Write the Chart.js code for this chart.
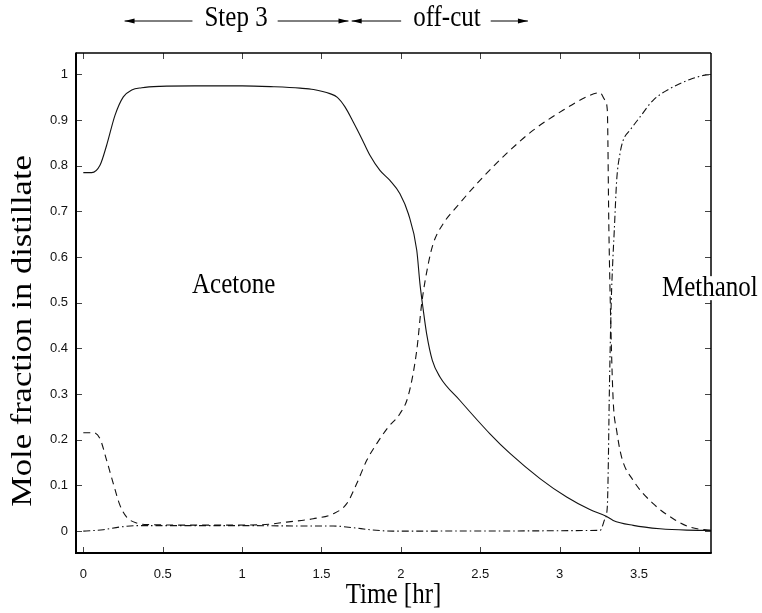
<!DOCTYPE html>
<html><head><meta charset="utf-8">
<script src="https://cdn.jsdelivr.net/npm/chart.js@4/dist/chart.umd.min.js"></script>
<style>html,body{margin:0;padding:0;background:#fff;}canvas{display:block;}</style>
</head><body>
<canvas id="c" width="762" height="613"></canvas>
<script>
// ---- data ----
const timeAcetone = [0,0.053,0.105,0.147,0.2,0.252,0.305,0.368,0.483,0.7,1.0,1.2,1.365,1.45,1.553,1.60,1.648,1.70,1.753,1.805,1.868,1.931,1.994,2.047,2.10,2.12,2.141,2.162,2.198,2.246,2.372,2.561,2.687,2.876,3.044,3.19,3.296,3.337,3.463,3.632,3.80,3.953];
const acetone     = [0.785,0.785,0.801,0.845,0.911,0.951,0.966,0.971,0.974,0.975,0.975,0.973,0.970,0.967,0.958,0.950,0.929,0.896,0.860,0.823,0.790,0.768,0.739,0.695,0.615,0.542,0.484,0.4325,0.374,0.3375,0.286,0.213,0.170,0.115,0.0745,0.047,0.032,0.0234,0.0125,0.005,0.002,0.0015];

const timeWater = [0,0.063,0.105,0.147,0.189,0.231,0.273,0.336,0.42,0.8,1.113,1.28,1.448,1.574,1.659,1.722,1.785,1.848,1.921,1.994,2.047,2.10,2.131,2.173,2.204,2.267,2.351,2.498,2.666,2.834,3.023,3.17,3.254,3.285,3.30,3.31,3.323,3.337,3.359,3.39,3.463,3.589,3.715,3.82,3.953];
const water     = [0.2155,0.2155,0.2024,0.155,0.104,0.0563,0.0307,0.0175,0.014,0.013,0.0137,0.0197,0.027,0.038,0.060,0.104,0.155,0.1915,0.228,0.257,0.297,0.396,0.498,0.586,0.630,0.6735,0.71,0.768,0.827,0.878,0.922,0.951,0.960,0.944,0.922,0.659,0.44,0.286,0.22,0.162,0.111,0.06,0.027,0.0088,0.0015];

const timeMethanol = [0,0.126,0.231,0.357,1.0,1.448,1.574,1.70,1.805,1.95,3.254,3.285,3.30,3.306,3.312,3.32,3.325,3.333,3.344,3.359,3.38,3.40,3.443,3.506,3.59,3.695,3.82,3.915,3.953];
const methanol     = [0,0.003,0.009,0.012,0.012,0.011,0.011,0.0074,0.003,0,0.0015,0.027,0.053,0.14,0.286,0.432,0.505,0.58,0.659,0.768,0.827,0.856,0.878,0.907,0.944,0.969,0.989,0.9985,1.0];

const xTicks = [0,0.5,1,1.5,2,2.5,3,3.5];
const yTicks = [0,0.1,0.2,0.3,0.4,0.5,0.6,0.7,0.8,0.9,1];

const xTitle = 'Time [hr]';
const yTitle = 'Mole fraction in distillate';

// annotations: arrow spans (in hours) and their labels
const arrowLabels = ['Step 3','off-cut'];
const arrowStarts = [0.26,1.69];
const arrowEnds   = [1.67,2.80];
const arrowLabelAt = [0.962,2.29];

const curveLabels = ['Acetone','Methanol'];
const curveLabelX = [0.947,3.946];
const curveLabelY = [0.537,0.532];

// ---- chart ----
const pts = (xs, ys) => xs.map((v,i)=>({x:v,y:ys[i]}));
const SERIF = '"Liberation Serif","Times New Roman",serif';
const VSTRETCH = 1.15;

function serifText(ctx, txt, cx, cy, sx, sy){
  ctx.save();
  ctx.translate(cx, cy);
  ctx.scale(sx||1, sy||VSTRETCH);
  ctx.textAlign = 'center';
  ctx.textBaseline = 'middle';
  ctx.fillText(txt, 0, 0);
  ctx.restore();
}

const deco = {
  id:'deco',
  afterDraw(chart){
    const {ctx, chartArea:a, scales:{x,y}} = chart;
    ctx.save();
    const line=(x1,y1,x2,y2)=>{ctx.beginPath();ctx.moveTo(x1,y1);ctx.lineTo(x2,y2);ctx.stroke();};
    // inward ticks on all four sides
    ctx.strokeStyle='#444'; ctx.lineWidth=1;
    xTicks.forEach(v=>{const p=Math.round(x.getPixelForValue(v))+0.5; line(p,a.bottom,p,a.bottom-6); line(p,a.top,p,a.top+6);});
    yTicks.forEach(v=>{const p=Math.round(y.getPixelForValue(v))+0.5; line(a.left,p,a.left+6,p); line(a.right,p,a.right-6,p);});
    // frame
    ctx.strokeStyle='#000';
    ctx.lineWidth=1.5;
    line(a.left,a.top,a.right,a.top);
    line(a.right,a.top,a.right,a.bottom);
    ctx.lineWidth=2;
    line(a.left,a.top-0.5,a.left,a.bottom+1);
    line(a.left-1,a.bottom,a.right+0.75,a.bottom);

    ctx.fillStyle='#000';
    // axis titles
    ctx.font='30px '+SERIF;
    ctx.save();
    ctx.translate(23,331);
    ctx.rotate(-Math.PI/2);
    serifText(ctx, yTitle, 0, 0, VSTRETCH, 1);
    ctx.restore();
    ctx.font='25px '+SERIF;
    serifText(ctx, xTitle, (a.left+a.right)/2, 595);

    // arrows at top
    const ay = 21;
    ctx.lineWidth=1; ctx.strokeStyle='#000';
    const head=(tip,dir)=>{ctx.beginPath();ctx.moveTo(tip,ay);ctx.lineTo(tip-dir*10,ay-2.5);ctx.lineTo(tip-dir*10,ay+2.5);ctx.closePath();ctx.fill();};
    arrowLabels.forEach((lab,i)=>{
      const x0=x.getPixelForValue(arrowStarts[i]);
      const x1=x.getPixelForValue(arrowEnds[i]);
      const xc=x.getPixelForValue(arrowLabelAt[i]);
      const w=ctx.measureText(lab).width;
      serifText(ctx, lab, xc, 18);
      line(x0,ay,xc-w/2-12,ay);
      line(xc+w/2+10,ay,x1,ay);
      head(x0,-1); head(x1,1);
    });

    // curve labels
    curveLabels.forEach((lab,i)=>{
      const cx=x.getPixelForValue(curveLabelX[i]);
      const cy=y.getPixelForValue(curveLabelY[i]);
      const w=ctx.measureText(lab).width;
      ctx.fillStyle='#fff';
      ctx.fillRect(cx-w/2-1, cy-12, w+2, 24);
      ctx.fillStyle='#000';
      serifText(ctx, lab, cx, cy);
    });
    ctx.restore();
  }
};

const common = {pointRadius:0, borderColor:'#111', borderWidth:1.1, fill:false, cubicInterpolationMode:'monotone'};

new Chart(document.getElementById('c'), {
  type:'line',
  data:{datasets:[
    Object.assign({label:'Acetone', data:pts(timeAcetone,acetone)}, common),
    Object.assign({label:'Water', data:pts(timeWater,water), borderDash:[7,5]}, common),
    Object.assign({label:'Methanol', data:pts(timeMethanol,methanol), borderDash:[7,3,1.5,3]}, common)
  ]},
  options:{
    responsive:false, animation:false, devicePixelRatio:1,
    layout:{padding:{top:53,right:51,left:0,bottom:0}},
    plugins:{legend:{display:false}, tooltip:{enabled:false}},
    scales:{
      x:{type:'linear', min:-0.046, max:3.953,
         grid:{display:false, drawTicks:false}, border:{display:false},
         ticks:{padding:14, color:'#111', font:{family:'"Liberation Sans",Arial,sans-serif', size:13}, maxRotation:0, callback:v=>String(v)},
         afterBuildTicks:s=>{s.ticks=xTicks.map(v=>({value:v}));},
         afterFit:s=>{s.height=60;}},
      y:{type:'linear', min:-0.048, max:1.047,
         grid:{display:false, drawTicks:false}, border:{display:false},
         ticks:{padding:8, color:'#111', font:{family:'"Liberation Sans",Arial,sans-serif', size:13}, callback:v=>String(v)},
         afterBuildTicks:s=>{s.ticks=yTicks.map(v=>({value:v}));},
         afterFit:s=>{s.width=76;}}
    }
  },
  plugins:[deco]
});
</script>
</body></html>
